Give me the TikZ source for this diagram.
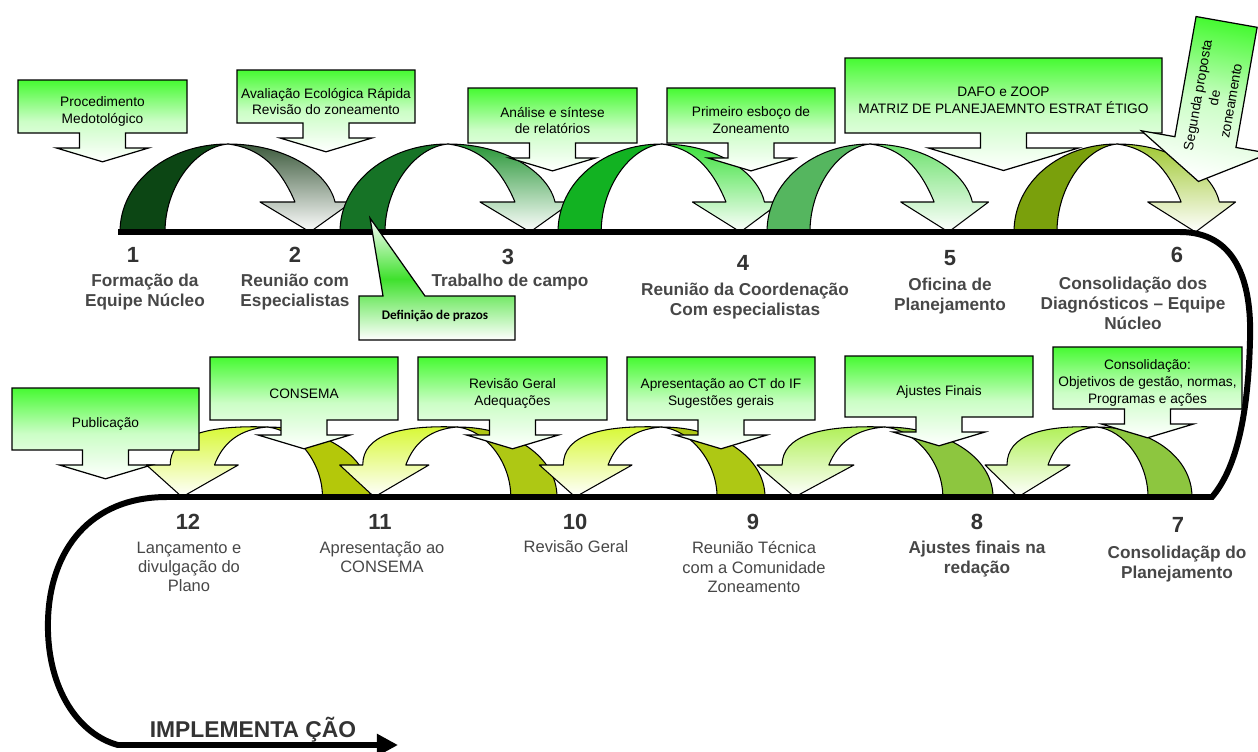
\documentclass[tikz,border=0pt]{standalone}
\usepackage{fontspec}
\setmainfont{Liberation Sans}
\newfontfamily\calibrifont{Carlito}
\usepackage{tikz}
\usetikzlibrary{arrows.meta, positioning}
\definecolor{boxgreen}{RGB}{70,250,50}
\definecolor{backA}{RGB}{12,70,20}
\definecolor{frontA}{RGB}{60,90,60}
\definecolor{backB}{RGB}{22,115,38}
\definecolor{frontB}{RGB}{40,150,55}
\definecolor{backC}{RGB}{18,178,34}
\definecolor{frontC}{RGB}{60,225,60}
\definecolor{backD}{RGB}{85,182,95}
\definecolor{frontD}{RGB}{110,225,110}
\definecolor{backE}{RGB}{122,160,12}
\definecolor{frontE}{RGB}{160,200,50}
\definecolor{lowA}{RGB}{141,198,63}
\definecolor{lowfA}{RGB}{175,240,85}
\definecolor{lowB}{RGB}{174,200,20}
\definecolor{lowC}{RGB}{180,200,10}
\definecolor{lowfB}{RGB}{215,248,50}

% upper row: left foot, x scale, back colour, front colour
\newcommand{\toparch}[4]{%
  \begin{scope}[shift={(#1,232)}, xscale=#2]
    \path[archline, fill=#3] (0,0) .. controls (0,-50) and (48,-88) .. (108,-88)
      .. controls (75,-85) and (45,-45) .. (45,0) -- cycle;
    \path[archline, top color=#4, bottom color=white, middle color=#4!50!white] (108,-88)
      .. controls (165,-88) and (208,-60) .. (215,-30)
      -- (232,-30) -- (190,0) -- (140,-30) -- (175,-30)
      .. controls (160,-65) and (140,-84) .. (108,-88) -- cycle;
  \end{scope}}
% lower row: right foot, x scale, back colour, front colour
\newcommand{\lowarch}[4]{%
  \begin{scope}[shift={(#1,497)}, xscale=-#2]
    \path[archline, fill=#3] (0,0) .. controls (0,-40) and (42,-70) .. (95,-70)
      .. controls (68,-67) and (44,-35) .. (44,0) -- cycle;
    \path[archline, top color=#4, bottom color=white, middle color=#4!50!white] (95,-70)
      .. controls (150,-72) and (185,-62) .. (185,-32)
      -- (207,-32) -- (174,0) -- (122,-32) -- (144,-32)
      .. controls (136,-55) and (120,-68) .. (95,-70) -- cycle;
  \end{scope}}
% box with down arrow: [barb], name, x1, y1, x2, y2, text
\newcommand{\callout}[7][46]{%
  \pgfmathsetmacro{\boxmid}{(#3+#5)/2}
  \pgfmathsetmacro{\headlen}{0.3*#1}
  \path[callbox] (#3,#4) -- (#5,#4) -- (#5,#6) -- (\boxmid+23,#6) -- (\boxmid+23,#6+15)
    -- (\boxmid+#1,#6+15) -- (\boxmid,#6+15+\headlen) -- (\boxmid-#1,#6+15)
    -- (\boxmid-23,#6+15) -- (\boxmid-23,#6) -- (#3,#6) -- cycle;
  \node[boxtext] (#2) at (\boxmid,#4/2+#6/2+5) {#7};}

\begin{document}
\begin{tikzpicture}[x=0.02cm, y=-0.02cm,
   archline/.style={draw=black, line width=0.6pt, line join=round},
   callbox/.style={draw=black, line width=0.7pt, line join=miter, top color=boxgreen,
                   bottom color=white, middle color=boxgreen!28!white},
   boxtext/.style={font=\fontsize{7.8}{9.6}\selectfont, align=center, inner sep=0pt},
   num/.style={font=\bfseries\fontsize{12.5}{14}\selectfont, text=black!80},
   steptext/.style={font=\bfseries\fontsize{9.8}{11.4}\selectfont, text=black!72, align=center},
   steplight/.style={font=\fontsize{9.4}{11}\selectfont, text=black!72, align=center},
   timeline/.style={line width=3.4pt}]
  \useasboundingbox (0,0) rectangle (1258,751);
  \clip (0,0) rectangle (1258,751);

  % arches
  \toparch{120}{1}{backA}{frontA}
  \toparch{340}{1}{backB}{frontB}
  \toparch{558}{0.96}{backC}{frontC}
  \toparch{767}{0.955}{backD}{frontD}
  \toparch{1014}{0.955}{backE}{frontE}
  \lowarch{370}{1.08}{lowC}{lowfB}
  \lowarch{557}{1.05}{lowB}{lowfB}
  \lowarch{765}{1.09}{lowB}{lowfB}
  \lowarch{993}{1.14}{lowA}{lowfA}
  \lowarch{1192}{1}{lowA}{lowfA}

  % time line
  \coordinate (topL) at (118,232);
  \coordinate (topR) at (1180,232);
  \coordinate (bend) at (1250,340);
  \coordinate (lowR) at (1212,497);
  \coordinate (lowL) at (167,497);
  \coordinate (turn) at (48,620);
  \coordinate (implL) at (118,745);
  \coordinate (implR) at (398,745);
  \draw[timeline, -{Triangle[length=12pt, width=12pt]}] (topL) -- (topR)
    .. controls +(55,0) and +(2,-60) .. (bend)
    .. controls +(-2,80) and +(23,-27) .. (lowR) -- (lowL)
    .. controls +(-77,0) and +(2,-70) .. (turn)
    .. controls +(-2,70) and +(-38,-10) .. (implL) -- (implR);
  \node[font=\bfseries\fontsize{13}{15}\selectfont, text=black!80] (impl) at (253,730) {IMPLEMENTA ÇÃO};

  % callouts
  \callout{proc}{18}{80}{187}{133}{Procedimento\\Medotológico}
  \callout{aval}{237}{70}{415}{123}{Avaliação Ecológica Rápida\\Revisão do zoneamento}
  \callout[43]{sint}{468}{88}{637}{143}{Análise e síntese\\de relatórios}
  \callout[43]{esboco}{667}{88}{835}{143}{Primeiro esboço de\\Zoneamento}
  \callout[75]{dafo}{845}{58}{1162}{133}{DAFO e ZOOP\\MATRIZ DE PLANEJAEMNTO ESTRAT ÉTIGO}
  \callout{publ}{12}{388}{199}{450}{Publicação}
  \callout{consema}{210}{357}{398}{420}{CONSEMA}
  \callout{revisao}{418}{357}{607}{420}{Revisão Geral\\Adequações}
  \callout{apres}{627}{357}{815}{420}{Apresentação ao CT do IF\\Sugestões gerais}
  \callout{ajustes}{845}{356}{1033}{417}{Ajustes Finais}
  \callout{consol}{1053}{347}{1242}{409}{Consolidação:\\Objetivos de gestão, normas,\\Programas e ações}
  \begin{scope}[shift={(1216,82)}, rotate=-10]
    \path[callbox, shading angle=-10] (-31,-61) -- (31,-61) -- (31,61) -- (65,61)
      -- (0,101) -- (-65,61) -- (-31,61) -- cycle;
    \node[boxtext, rotate=80] (segunda) at (1,16) {Segunda proposta\\de\\zoneamento};
  \end{scope}
  \path[draw=black, line width=0.7pt, top color=white, bottom color=white, middle color=boxgreen!90!black]
    (359,296) -- (383,296) -- (370,218) -- (425,296) -- (515,296) -- (515,340) -- (359,340) -- cycle;
  \node[font=\calibrifont\bfseries\fontsize{7.5}{9}\selectfont] (prazos) at (435,316) {Definição de prazos};

  % steps
  \node[num] (n1) at (133,255) {1};
  \node[steptext] (l1) at (145,292) {Formação da\\Equipe Núcleo};
  \node[num] (n2) at (295,255) {2};
  \node[steptext] (l2) at (295,292) {Reunião com\\Especialistas};
  \node[num] (n3) at (508,257) {3};
  \node[steptext] (l3) at (510,282) {Trabalho de campo};
  \node[num] (n4) at (743,263) {4};
  \node[steptext] (l4) at (745,301) {Reunião da Coordenação\\Com especialistas};
  \node[num] (n5) at (950,258) {5};
  \node[steptext] (l5) at (950,296) {Oficina de\\Planejamento};
  \node[num] (n6) at (1177,255) {6};
  \node[steptext] (l6) at (1133,303) {Consolidação dos\\Diagnósticos – Equipe\\Núcleo};
  \node[num] (n7) at (1178,525) {7};
  \node[steptext] (l7) at (1177,564) {Consolidaçãp do\\Planejamento};
  \node[num] (n8) at (977,522) {8};
  \node[steptext] (l8) at (977,559) {Ajustes finais na\\redação};
  \node[num] (n9) at (753,522) {9};
  \node[steplight] (l9) at (754,567) {Reunião Técnica\\com a Comunidade\\Zoneamento};
  \node[num] (n10) at (575,522) {10};
  \node[steplight] (l10) at (576,547) {Revisão Geral};
  \node[num] (n11) at (380,522) {11};
  \node[steplight] (l11) at (382,557) {Apresentação ao\\CONSEMA};
  \node[num] (n12) at (188,522) {12};
  \node[steplight] (l12) at (189,567) {Lançamento e\\divulgação do\\Plano};
\end{tikzpicture}
\end{document}
